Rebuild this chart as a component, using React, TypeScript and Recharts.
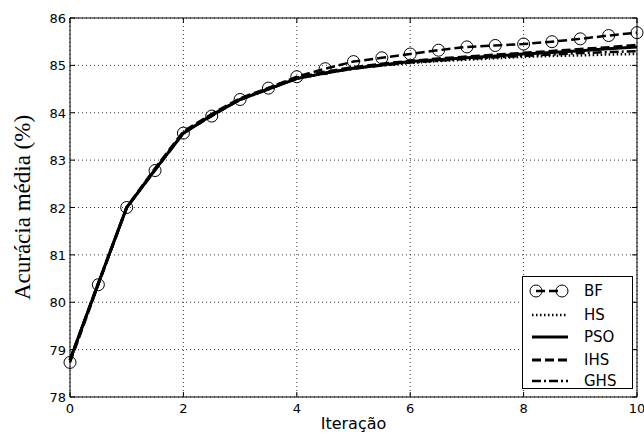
import React from 'react';
import { LineChart, Line, XAxis, YAxis, CartesianGrid, ReferenceLine, Legend } from 'recharts';

const iterations = [0, 0.5, 1, 1.5, 2, 2.5, 3, 3.5, 4, 4.5, 5, 5.5, 6, 6.5, 7, 7.5, 8, 8.5, 9, 9.5, 10];
const bfValues = [78.73, 80.37, 82.0, 82.78, 83.57, 83.93, 84.28, 84.52, 84.76, 84.93, 85.08, 85.16, 85.24, 85.32, 85.39, 85.42, 85.45, 85.5, 85.56, 85.63, 85.69];
const hsValues = [78.78, 80.4, 82.0, 82.8, 83.58, 83.95, 84.28, 84.5, 84.72, 84.83, 84.93, 85.0, 85.05, 85.09, 85.12, 85.15, 85.18, 85.2, 85.21, 85.23, 85.24];
const psoValues = [78.78, 80.4, 82.0, 82.8, 83.57, 83.95, 84.28, 84.5, 84.72, 84.84, 84.94, 85.01, 85.08, 85.12, 85.16, 85.2, 85.24, 85.27, 85.31, 85.35, 85.39];
const ihsValues = [78.78, 80.4, 82.0, 82.82, 83.6, 83.97, 84.3, 84.52, 84.74, 84.86, 84.96, 85.03, 85.09, 85.14, 85.18, 85.22, 85.26, 85.3, 85.34, 85.38, 85.43];
const ghsValues = [78.78, 80.4, 82.0, 82.8, 83.57, 83.95, 84.27, 84.5, 84.72, 84.84, 84.93, 85.0, 85.06, 85.1, 85.14, 85.17, 85.2, 85.23, 85.26, 85.28, 85.3];
const xTicks = [0, 2, 4, 6, 8, 10];
const yTicks = [78, 79, 80, 81, 82, 83, 84, 85, 86];

const data = iterations.map((x, i) => ({
  x,
  BF: bfValues[i],
  HS: hsValues[i],
  PSO: psoValues[i],
  IHS: ihsValues[i],
  GHS: ghsValues[i],
}));

const W = 644;
const H = 434;
const PLOT_LEFT = 70;
const PLOT_RIGHT = 637;
const PLOT_TOP = 18;
const PLOT_BOTTOM = 397;

const series = [
  { key: 'BF', dash: '9 4', width: 2.5 },
  { key: 'HS', dash: '1.5 2.5', width: 2.5 },
  { key: 'PSO', dash: undefined, width: 3 },
  { key: 'IHS', dash: '9 4', width: 3 },
  { key: 'GHS', dash: '9 3 2 3', width: 2.5 },
];

const tickFont = { fontFamily: 'DejaVu Sans', fontSize: 13, fill: '#000' };

const YTick = (props: any) => {
  const { x, y, payload } = props;
  return (
    <g>
      <line x1={x} x2={x + 5} y1={y} y2={y} stroke="#000" strokeWidth={1} />
      <line x1={PLOT_RIGHT - 5} x2={PLOT_RIGHT} y1={y} y2={y} stroke="#000" strokeWidth={1} />
      <text x={x - 4} y={y + 5} textAnchor="end" style={tickFont}>{payload.value}</text>
    </g>
  );
};

const XTick = (props: any) => {
  const { x, y, payload } = props;
  return (
    <g>
      <line x1={x} x2={x} y1={y} y2={y - 5} stroke="#000" strokeWidth={1} />
      <line x1={x} x2={x} y1={PLOT_TOP} y2={PLOT_TOP + 5} stroke="#000" strokeWidth={1} />
      <text x={x} y={y + 16} textAnchor="middle" style={tickFont}>{payload.value}</text>
    </g>
  );
};

const CircleDot = (props: any) => {
  const { cx, cy, index } = props;
  if (cx == null || cy == null) return <g key={index} />;
  return <circle key={index} cx={cx} cy={cy} r={6} fill="none" stroke="#000" strokeWidth={1} />;
};

const LegendBox = () => {
  const rows = [15, 39, 61, 84, 105];
  return (
    <svg width={112} height={114} style={{ display: 'block', overflow: 'visible' }}>
      <rect x={0.5} y={0.5} width={110} height={112} fill="#fff" stroke="#000" strokeWidth={1} />
      {series.map((s, i) => (
        <g key={s.key}>
          {s.key === 'BF' ? (
            <g>
              <line x1={14} x2={40} y1={rows[i]} y2={rows[i]} stroke="#000" strokeWidth={2.5} strokeDasharray="9 4" />
              <circle cx={14} cy={rows[i]} r={6} fill="none" stroke="#000" strokeWidth={1} />
              <circle cx={40} cy={rows[i]} r={6} fill="none" stroke="#000" strokeWidth={1} />
            </g>
          ) : (
            <line x1={10} x2={46} y1={rows[i]} y2={rows[i]} stroke="#000" strokeWidth={s.width} strokeDasharray={s.dash} />
          )}
          <text x={62} y={rows[i] + 5} style={{ fontFamily: 'DejaVu Sans', fontSize: 15, fill: '#000' }}>{s.key}</text>
        </g>
      ))}
    </svg>
  );
};

export default function App() {
  return (
    <div style={{ position: 'absolute', left: 0, top: 0, background: '#fff' }}>
      <LineChart
        width={W}
        height={H}
        data={data}
        margin={{ top: PLOT_TOP, right: W - PLOT_RIGHT, bottom: 0, left: 0 }}
      >
        <CartesianGrid stroke="#000" strokeWidth={0.8} strokeDasharray="1 3" />
        <XAxis
          dataKey="x"
          type="number"
          domain={[0, 10]}
          ticks={xTicks}
          height={H - PLOT_BOTTOM}
          tickSize={0}
          tickMargin={0}
          tickLine={false}
          axisLine={{ stroke: '#000', strokeWidth: 1 }}
          tick={<XTick />}
          interval={0}
          label={{
            content: (p: any) => (
              <text x={PLOT_LEFT + (PLOT_RIGHT - PLOT_LEFT) / 2} y={429} textAnchor="middle" style={{ fontFamily: 'DejaVu Sans', fontSize: 16, fill: '#000' }}>
                Iteração
              </text>
            ),
          }}
        />
        <YAxis
          type="number"
          domain={[78, 86]}
          ticks={yTicks}
          width={PLOT_LEFT}
          tickSize={0}
          tickMargin={0}
          tickLine={false}
          axisLine={{ stroke: '#000', strokeWidth: 1 }}
          tick={<YTick />}
          interval={0}
          label={{
            content: (p: any) => (
              <text x={0} y={0} transform={`translate(30, ${(PLOT_TOP + PLOT_BOTTOM) / 2}) rotate(-90)`} textAnchor="middle" style={{ fontFamily: 'Liberation Serif', fontSize: 23, fill: '#000' }}>
                Acurácia média (%)
              </text>
            ),
          }}
        />
        <ReferenceLine y={86} stroke="#000" strokeWidth={1} />
        <ReferenceLine x={10} stroke="#000" strokeWidth={1} />
        {series.map((s) => (
          <Line
            key={s.key}
            dataKey={s.key}
            type="linear"
            stroke="#000"
            strokeWidth={s.width}
            strokeDasharray={s.dash}
            dot={s.key === 'BF' ? <CircleDot /> : false}
            activeDot={false}
            isAnimationActive={false}
          />
        ))}
        <Legend
          layout="vertical"
          align="center"
          verticalAlign="middle"
          content={<LegendBox />}
          wrapperStyle={{ left: 522, top: 276, width: 112, height: 114 }}
        />
      </LineChart>
    </div>
  );
}
